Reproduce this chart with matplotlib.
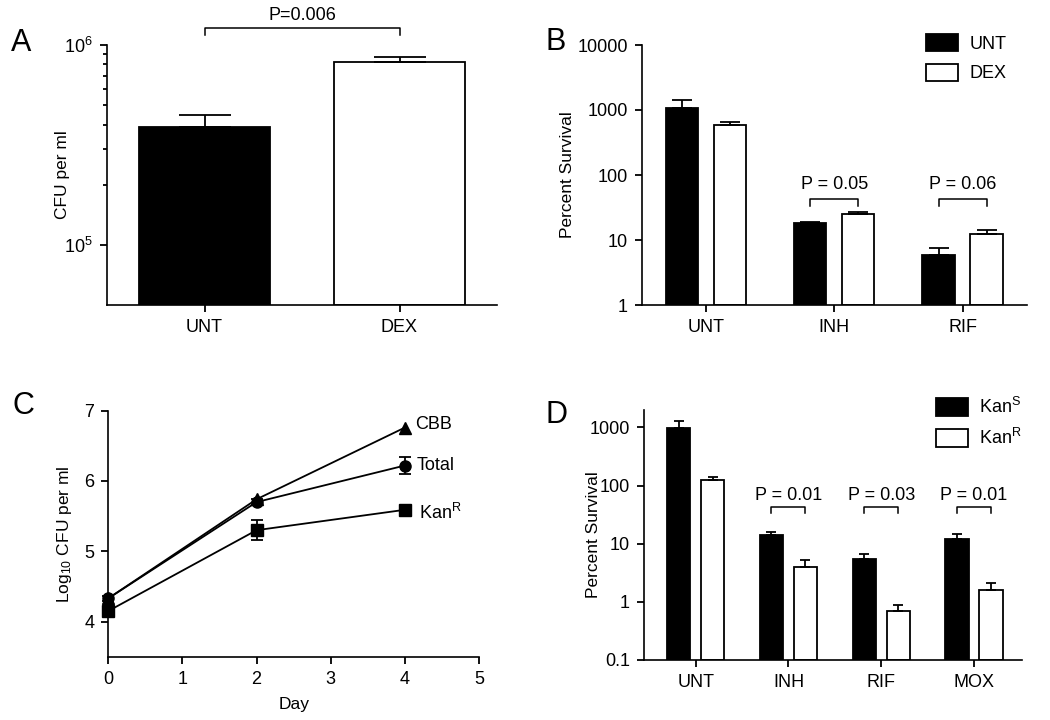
import matplotlib
matplotlib.use('Agg')
import matplotlib.pyplot as plt
import numpy as np
from matplotlib.patches import Patch
from matplotlib.ticker import FixedLocator, NullLocator

plt.rcParams['font.family'] = ['Liberation Sans', 'DejaVu Sans']
plt.rcParams['mathtext.fontset'] = 'custom'
plt.rcParams['mathtext.rm'] = 'Liberation Sans'
plt.rcParams['mathtext.it'] = 'Liberation Sans:italic'
plt.rcParams['font.size'] = 12.5
plt.rcParams['axes.linewidth'] = 1.2

# panel A
a_groups = ['UNT', 'DEX']
a_cfu = [3.9e5, 8.26e5]
a_err = [0.57e5, 0.48e5]
a_pval = 'P=0.006'

# panel B
b_groups = ['UNT', 'INH', 'RIF']
b_series = ['UNT', 'DEX']
b_unt = [1062, 18.1, 5.9]
b_unt_err = [363, 1.0, 1.55]
b_dex = [582, 25.1, 12.2]
b_dex_err = [72, 2.1, 2.1]
b_pvals = [None, 'P = 0.05', 'P = 0.06']

# panel C
c_days = [0, 2, 4]
c_names = ['CBB', 'Total', r'Kan$^\mathregular{R}$']
c_cbb = [4.33, 5.74, 6.76]
c_total = [4.33, 5.70, 6.22]
c_total_err = [0.04, 0.04, 0.12]
c_kanr = [4.15, 5.30, 5.59]
c_kanr_err = [0.05, 0.14, 0.03]

# panel D
d_groups = ['UNT', 'INH', 'RIF', 'MOX']
d_series = [r'Kan$^\mathregular{S}$', r'Kan$^\mathregular{R}$']
d_kans = [970, 14.2, 5.4, 12.2]
d_kans_err = [346, 2.0, 1.27, 2.4]
d_kanr = [125, 4.04, 0.71, 1.6]
d_kanr_err = [14, 1.15, 0.175, 0.51]
d_pvals = [None, 'P = 0.01', 'P = 0.03', 'P = 0.01']

LW = 1.3
W, H = 1050, 720


def style(ax):
    for s in ['top', 'right']:
        ax.spines[s].set_visible(False)
    ax.tick_params(direction='out', length=5, width=LW, pad=5, labelsize=13)
    ax.tick_params(which='minor', direction='out', length=3, width=LW)


def grouped_bars(ax, x, series, width, offset, capsize, bottom):
    for k, (vals, errs, color) in enumerate(series):
        xx = x + (2 * k - 1) * offset
        ax.bar(xx, np.array(vals) - bottom, width, bottom=bottom, color=color,
               edgecolor='k', linewidth=LW, zorder=2)
        ax.errorbar(xx, vals, yerr=[np.zeros(len(vals)), errs], fmt='none',
                    ecolor='k', elinewidth=LW, capsize=capsize, capthick=LW,
                    zorder=3)


def bracket(ax, x0, x1, y, tip, text, ty, transform=None):
    transform = transform or ax.transData
    ax.plot([x0, x0, x1, x1], [tip, y, y, tip], color='k', lw=1.1,
            clip_on=False, transform=transform)
    ax.text((x0 + x1) / 2, ty, text, ha='center', va='center', fontsize=13,
            transform=transform)


def axes_at(fig, left, top, right, bottom):
    return fig.add_axes([left / W, 1 - bottom / H, (right - left) / W,
                         (bottom - top) / H])


fig = plt.figure(figsize=(10.5, 7.2), dpi=100)

# ---- A ----
ax = axes_at(fig, 107, 45, 497, 305)
style(ax)
ax.set_yscale('log')
ax.set_ylim(5e4, 1e6)
x = np.arange(len(a_groups))
ax.bar(x, np.array(a_cfu) - 5e4, 0.67, bottom=5e4, color=['k', 'w'],
       edgecolor='k', linewidth=LW, zorder=2)
ax.errorbar(x, a_cfu, yerr=[np.zeros(2), a_err], fmt='none', ecolor='k',
            elinewidth=LW, capsize=19, capthick=LW, zorder=3)
ax.set_xlim(-0.5, 1.5)
ax.set_xticks(x)
ax.set_xticklabels(a_groups)
ax.yaxis.set_major_locator(FixedLocator([1e5, 1e6]))
ax.set_yticklabels([r'$\mathregular{10^5}$', r'$\mathregular{10^6}$'])
ax.yaxis.set_minor_locator(FixedLocator(np.arange(2, 10) * 1e5))
ax.yaxis.set_minor_formatter(plt.NullFormatter())
ax.set_ylabel('CFU per ml')
ax.yaxis.set_label_coords(-0.095, 0.5)
bracket(ax, 0, 1, 1.065, 1.038, a_pval, 1.115, ax.get_xaxis_transform())

# ---- B ----
ax = axes_at(fig, 641.7, 45, 1026.7, 305)
style(ax)
ax.set_yscale('log')
ax.set_ylim(1, 10000)
x = np.arange(len(b_groups))
grouped_bars(ax, x, [(b_unt, b_unt_err, 'k'), (b_dex, b_dex_err, 'w')],
             0.25, 0.187, 7, 1)
ax.set_xlim(-0.5, 2.5)
ax.set_xticks(x)
ax.set_xticklabels(b_groups)
ax.yaxis.set_major_locator(FixedLocator([1, 10, 100, 1000, 10000]))
ax.set_yticklabels(['1', '10', '100', '1000', '10000'])
ax.yaxis.set_minor_locator(NullLocator())
ax.set_ylabel('Percent Survival')
ax.yaxis.set_label_coords(-0.174, 0.5)
for i, p in enumerate(b_pvals):
    if p:
        bracket(ax, i - 0.187, i + 0.187, 42, 33.7, p, 72)
ax.legend([Patch(facecolor=c, edgecolor='k', linewidth=LW) for c in 'kw'],
          b_series, loc='upper left', bbox_to_anchor=(926 / W, 1 - 34 / H),
          bbox_transform=fig.transFigure, frameon=False, borderpad=0,
          borderaxespad=0, handlelength=1.75, handleheight=1.1,
          handletextpad=0.65, labelspacing=0.6, fontsize=13)

# ---- C ----
ax = axes_at(fig, 108.3, 410.7, 479, 656.7)
style(ax)
ax.plot(c_days, c_cbb, color='k', lw=LW, marker='^', ms=8, zorder=3,
        clip_on=False)
ax.errorbar(c_days, c_total, yerr=c_total_err, color='k', lw=LW, marker='o',
            ms=8, capsize=4, capthick=LW, zorder=3, clip_on=False)
ax.errorbar(c_days, c_kanr, yerr=c_kanr_err, color='k', lw=LW, marker='s',
            ms=8, capsize=4, capthick=LW, zorder=3, clip_on=False)
for name, vals, dx, dy in zip(c_names, [c_cbb, c_total, c_kanr],
                              [0.14, 0.16, 0.19], [0.05, 0, -0.05]):
    ax.text(c_days[-1] + dx, vals[-1] + dy, name, ha='left', va='center',
            fontsize=13)
ax.set_xlim(0, 5)
ax.set_ylim(3.5, 7)
ax.set_xticks(range(6))
ax.set_yticks([4, 5, 6, 7])
ax.set_xlabel('Day', labelpad=7)
ax.set_ylabel(r'Log$_\mathregular{10}$ CFU per ml')
ax.yaxis.set_label_coords(-0.092, 0.5)

# ---- D ----
ax = axes_at(fig, 644, 410, 1021.7, 660)
style(ax)
ax.set_yscale('log')
ax.set_ylim(0.1, 2000)
x = np.arange(len(d_groups))
grouped_bars(ax, x, [(d_kans, d_kans_err, 'k'), (d_kanr, d_kanr_err, 'w')],
             0.25, 0.183, 3.5, 0.1)
ax.set_xlim(-0.557, 3.514)
ax.set_xticks(x)
ax.set_xticklabels(d_groups)
ax.yaxis.set_major_locator(FixedLocator([0.1, 1, 10, 100, 1000]))
ax.set_yticklabels(['0.1', '1', '10', '100', '1000'])
ax.yaxis.set_minor_locator(NullLocator())
ax.set_ylabel('Percent Survival')
ax.yaxis.set_label_coords(-0.114, 0.5)
for i, p in enumerate(d_pvals):
    if p:
        bracket(ax, i - 0.183, i + 0.183, 42.5, 33.5, p, 66.5)
ax.legend([Patch(facecolor=c, edgecolor='k', linewidth=LW) for c in 'kw'],
          d_series, loc='upper left', bbox_to_anchor=(936 / W, 1 - 397 / H),
          bbox_transform=fig.transFigure, frameon=False, borderpad=0,
          borderaxespad=0, handlelength=1.75, handleheight=1.1,
          handletextpad=0.65, labelspacing=0.6, fontsize=13)

for letter, px, py in [('A', 21, 43), ('B', 556, 42), ('C', 23, 406),
                       ('D', 557, 415)]:
    fig.text(px / W, 1 - py / H, letter, fontsize=22, ha='center',
             va='center')

fig.savefig('out.png', dpi=100)
